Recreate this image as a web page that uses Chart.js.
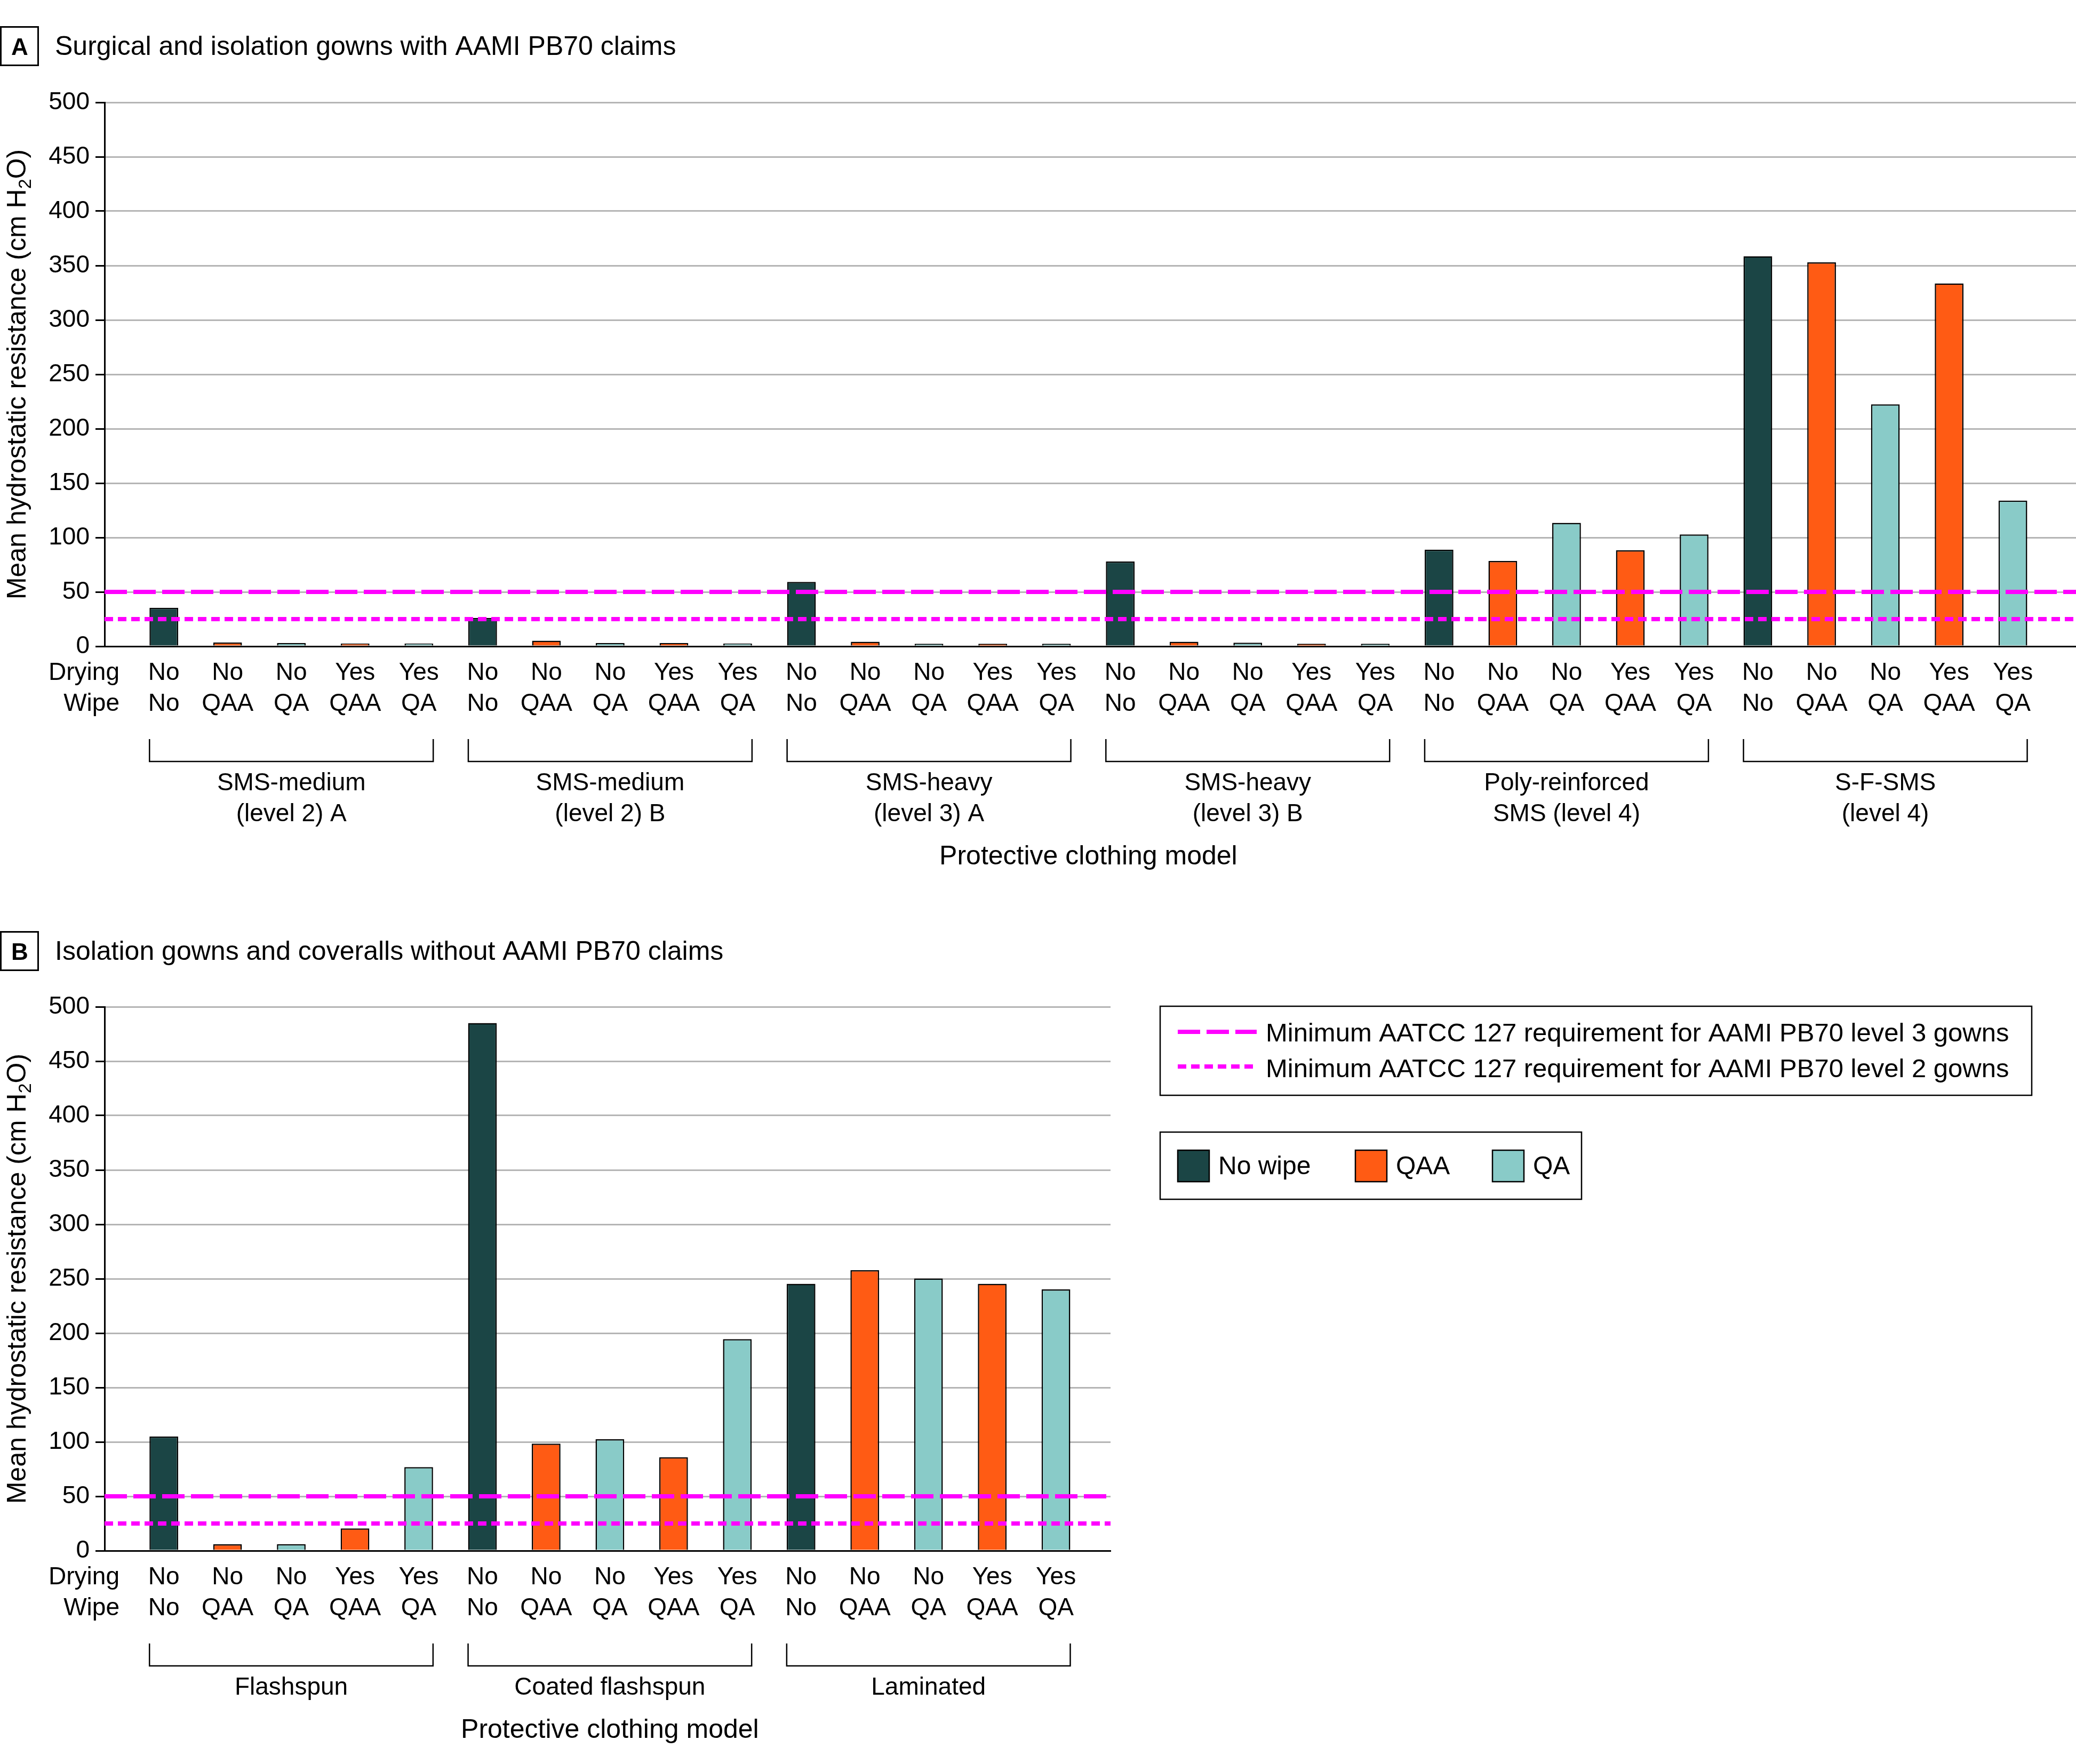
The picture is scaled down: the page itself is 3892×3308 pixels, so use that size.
<!DOCTYPE html>
<html>
<head>
<meta charset="utf-8">
<script src="https://cdn.jsdelivr.net/npm/chart.js@4.4.1/dist/chart.umd.min.js"></script>
<style>
  html, body { margin: 0; background: #fff; }
  #wrap { position: relative; width: 3892px; height: 3308px; background: #fff; }
  canvas { position: absolute; left: 0; }
  #chartA { top: 0; }
  #chartB { top: 1700px; }
</style>
</head>
<body>
<div id="wrap">
  <canvas id="chartA" width="3892" height="1700"></canvas>
  <canvas id="chartB" width="3892" height="1608"></canvas>
</div>
<script>
// ---- data ----
const rowHeads = ['Drying', 'Wipe'];
const drying = ['No', 'No', 'No', 'Yes', 'Yes'];
const wipe = ['No', 'QAA', 'QA', 'QAA', 'QA'];

const groupsA = [
  ['SMS-medium', '(level 2) A'],
  ['SMS-medium', '(level 2) B'],
  ['SMS-heavy', '(level 3) A'],
  ['SMS-heavy', '(level 3) B'],
  ['Poly-reinforced', 'SMS (level 4)'],
  ['S-F-SMS', '(level 4)']
];
const valuesA = [
  35.4, 3.6, 3.1, 2.6, 2.6,
  26.1, 5.1, 3.1, 3.1, 2.6,
  59.2, 4.2, 2.3, 2.3, 2.3,
  77.9, 4.2, 3.3, 2.3, 2.3,
  88.8, 78.4, 113.5, 88.2, 102.8,
  358.6, 353, 222.4, 333.6, 134
];

const groupsB = [['Flashspun'], ['Coated flashspun'], ['Laminated']];
const valuesB = [
  105, 5.9, 6, 20.5, 76.8,
  485, 98.4, 102.4, 85.9, 194.5,
  245.3, 257.8, 250.3, 245.3, 240.2
];

const wipeTypes = ['No', 'QAA', 'QA'];
const wipeNames = ['No wipe', 'QAA', 'QA'];
const refValues = [50, 25];
const refNames = [
  'Minimum AATCC 127 requirement for AAMI PB70 level 3 gowns',
  'Minimum AATCC 127 requirement for AAMI PB70 level 2 gowns'
];
const yTicks = { min: 0, max: 500, step: 50 };
const yTitle = ['Mean hydrostatic resistance (cm H', '2', 'O)'];
const xTitle = 'Protective clothing model';

// ---- styles ----
const FONT = "'Liberation Sans', Arial, sans-serif";
const COLORS = { No: '#1b4545', QAA: '#ff5b14', QA: '#89cbc8' };
const MAGENTA = '#ff00ff';
const DASHES = [[42, 12], [16, 9]];
const LABEL = 46, LINE_H = 58, X_PAD = 21;
const SWATCH_X = [2208, 2541, 2798];

Chart.defaults.color = '#000';
Chart.defaults.font.family = FONT;

const panelDecor = {
  id: 'panelDecor',
  afterDraw(chart, args, o) {
    const { ctx, chartArea: area } = chart;
    const x = chart.scales.x, y = chart.scales.y;
    const base = y.getPixelForValue(0);
    const bars = chart.getDatasetMeta(0).data;
    const per = drying.length;
    ctx.save();
    ctx.fillStyle = '#000';
    ctx.strokeStyle = '#000';

    // panel tag + title
    ctx.lineWidth = 3;
    ctx.strokeRect(1.5, o.tagTop + 1.5, 70, 72);
    ctx.textBaseline = 'alphabetic';
    ctx.textAlign = 'center';
    ctx.font = `bold 44px ${FONT}`;
    ctx.fillText(o.tag, 37, o.tagTop + 54);
    ctx.textAlign = 'left';
    ctx.font = `50px ${FONT}`;
    ctx.fillText(o.title, 103, o.tagTop + 54);

    // y axis title with subscript
    ctx.save();
    ctx.translate(48, (area.top + area.bottom) / 2);
    ctx.rotate(-Math.PI / 2);
    ctx.font = `50px ${FONT}`;
    const w1 = ctx.measureText(yTitle[0]).width, w3 = ctx.measureText(yTitle[2]).width;
    ctx.font = `34px ${FONT}`;
    const w2 = ctx.measureText(yTitle[1]).width;
    let cx = -(w1 + w2 + w3) / 2;
    ctx.font = `50px ${FONT}`;
    ctx.fillText(yTitle[0], cx, 0); cx += w1;
    ctx.font = `34px ${FONT}`;
    ctx.fillText(yTitle[1], cx, 10); cx += w2;
    ctx.font = `50px ${FONT}`;
    ctx.fillText(yTitle[2], cx, 0);
    ctx.restore();

    // row headers
    ctx.font = `${LABEL}px ${FONT}`;
    ctx.textAlign = 'right';
    ctx.textBaseline = 'middle';
    rowHeads.forEach((t, k) => ctx.fillText(t, 224, area.bottom + X_PAD + LINE_H / 2 + k * LINE_H));

    // group brackets + names
    ctx.lineWidth = 2.5;
    ctx.textAlign = 'center';
    ctx.textBaseline = 'alphabetic';
    o.groups.forEach((g, gi) => {
      const b0 = bars[gi * per], b1 = bars[gi * per + per - 1];
      const l = b0.x - b0.width / 2, r = b1.x + b1.width / 2;
      ctx.beginPath();
      ctx.moveTo(l, base + 174);
      ctx.lineTo(l, base + 216);
      ctx.lineTo(r, base + 216);
      ctx.lineTo(r, base + 174);
      ctx.stroke();
      g.forEach((line, k) => ctx.fillText(line, (l + r) / 2, base + 270 + k * LINE_H));
    });

    const nl = Math.max(...o.groups.map(g => g.length));
    ctx.font = `50px ${FONT}`;
    const mid = (x.getPixelForValue(0) + x.getPixelForValue(bars.length - 1)) / 2;
    ctx.fillText(xTitle, mid, base + 270 + (nl - 1) * LINE_H + 81);

    if (o.legend) {
      ctx.textAlign = 'left';
      ctx.font = `49px ${FONT}`;
      ctx.lineWidth = 2.5;
      ctx.strokeRect(2175, 187, 3809 - 2175, 167);
      refNames.forEach((t, k) => {
        const ly = 235 + k * 65;
        ctx.save();
        ctx.strokeStyle = MAGENTA;
        ctx.lineWidth = 8;
        ctx.setLineDash(DASHES[k]);
        ctx.beginPath();
        ctx.moveTo(2208, ly);
        ctx.lineTo(2356, ly);
        ctx.stroke();
        ctx.restore();
        ctx.fillText(t, 2373, 253 + k * 67);
      });

      ctx.font = `48px ${FONT}`;
      wipeTypes.forEach((t, k) => {
        const sx = SWATCH_X[k];
        ctx.fillStyle = COLORS[t];
        ctx.fillRect(sx, 457, 59, 59);
        ctx.strokeRect(sx, 457, 59, 59);
        ctx.fillStyle = '#000';
        ctx.fillText(wipeNames[k], sx + 76, 502);
      });
      ctx.strokeRect(2175, 423, 2965 - 2175, 126);
    }
    ctx.restore();
  }
};

function makeChart(id, groups, values, o) {
  const n = values.length;
  const xMin = -0.93, xMax = n - 1 + o.padR;
  const bars = {
    type: 'bar',
    order: 2,
    data: values.map((v, i) => ({ x: i, y: v })),
    backgroundColor: values.map((v, i) => COLORS[wipe[i % wipe.length]]),
    borderColor: '#000',
    borderWidth: 2.5,
    borderSkipped: 'start',
    barPercentage: 0.45,
    categoryPercentage: 1
  };
  const lines = refValues.map((v, k) => ({
    type: 'line',
    order: 1,
    label: refNames[k],
    data: [{ x: xMin, y: v }, { x: xMax, y: v }],
    borderColor: MAGENTA,
    borderWidth: 8,
    borderDash: DASHES[k],
    borderCapStyle: 'butt',
    pointRadius: 0,
    fill: false
  }));

  return new Chart(document.getElementById(id), {
    type: 'bar',
    data: { datasets: [bars, ...lines] },
    plugins: [panelDecor],
    options: {
      responsive: false,
      animation: false,
      devicePixelRatio: 1,
      layout: { padding: { top: o.top, right: o.right, left: 0, bottom: 0 } },
      plugins: {
        legend: { display: false },
        tooltip: { enabled: false },
        panelDecor: { tag: o.tag, title: o.title, tagTop: o.tagTop, groups, legend: o.legend }
      },
      scales: {
        x: {
          type: 'linear',
          min: xMin,
          max: xMax,
          offset: false,
          z: 1,
          grid: { display: false, drawTicks: false, offset: false },
          border: { display: true, color: '#000', width: 3 },
          afterBuildTicks: s => { s.ticks = values.map((v, i) => ({ value: i })); },
          afterFit: s => { s.height = o.xHeight; },
          ticks: {
            autoSkip: false,
            maxRotation: 0,
            minRotation: 0,
            padding: X_PAD,
            color: '#000',
            font: { family: FONT, size: LABEL, lineHeight: LINE_H / LABEL },
            callback: v => [drying[v % drying.length], wipe[v % wipe.length]]
          }
        },
        y: {
          min: yTicks.min,
          max: yTicks.max,
          afterFit: s => { s.width = 196; },
          grid: { color: '#b5b5b5', lineWidth: 3, tickColor: '#000', tickLength: 17, tickWidth: 3 },
          border: { color: '#000', width: 3 },
          ticks: { stepSize: yTicks.step, padding: 11, color: '#000', font: { family: FONT, size: LABEL } }
        }
      }
    }
  });
}

makeChart('chartA', groupsA, valuesA, {
  tag: 'A', title: 'Surgical and isolation gowns with AAMI PB70 claims', tagTop: 49,
  top: 192, right: 0, xHeight: 488, padR: 0.99, legend: false
});
makeChart('chartB', groupsB, valuesB, {
  tag: 'B', title: 'Isolation gowns and coveralls without AAMI PB70 claims', tagTop: 46,
  top: 188, right: 1810, xHeight: 400, padR: 0.857, legend: true
});
</script>
</body>
</html>
